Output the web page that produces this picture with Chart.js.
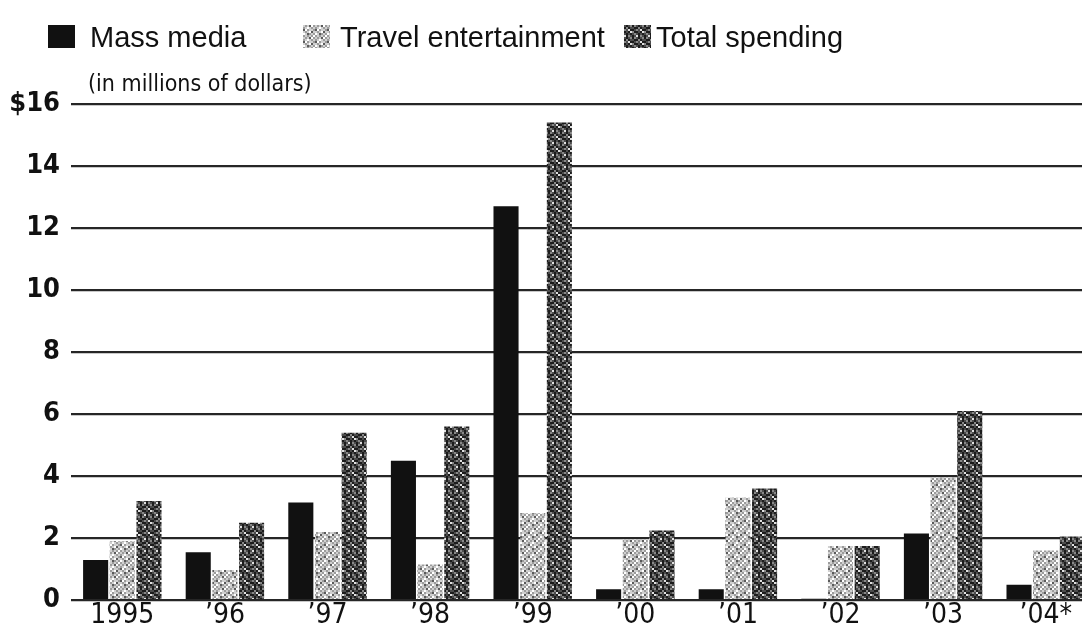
<!DOCTYPE html>
<html>
<head>
<meta charset="utf-8">
<script src="https://cdn.jsdelivr.net/npm/chart.js@4.4.0/dist/chart.umd.min.js"></script>
<style>
  html, body { margin: 0; padding: 0; background: #fff; overflow: hidden; }
  #wrap { position: absolute; left: 0; top: 0; width: 1100px; height: 640px; }
  #legend { position: absolute; left: 0; top: 0; width: 1082px; height: 70px;
            font-family: "Liberation Sans", Arial, sans-serif; font-size: 29px; color: #111; }
  .item { position: absolute; top: 19px; height: 36px; line-height: 36px; white-space: nowrap; }
  .sw { position: absolute; top: 6px; width: 27px; height: 23px; }
  .item span.t { position: absolute; top: 0; }
  #unit { position: absolute; left: 88px; top: 70px; font-family: "Liberation Sans Narrow", "DejaVu Sans Condensed", sans-serif;
          font-size: 23px; color: #111; }
</style>
</head>
<body>
<div id="wrap">
  <canvas id="chart" width="1100" height="640"></canvas>
</div>
<div id="legend"></div>
<div id="unit">(in millions of dollars)</div>
<script>
const years = ["1995", "’96", "’97", "’98", "’99", "’00", "’01", "’02", "’03", "’04*"];
const massMedia = [1.3, 1.55, 3.15, 4.5, 12.7, 0.35, 0.35, 0.05, 2.15, 0.5];
const travelEntertainment = [1.9, 0.97, 2.2, 1.15, 2.8, 1.95, 3.3, 1.75, 3.95, 1.6];
const totalSpending = [3.2, 2.5, 5.4, 5.6, 15.4, 2.25, 3.6, 1.75, 6.1, 2.05];
const seriesNames = ["Mass media", "Travel entertainment", "Total spending"];
const yMax = 16;
const yStep = 2;

// speckled newsprint textures (fixed tiles)
const travelTile = ["121302", "210121", "302112", "121031", "013212", "212120"];
const travelShades = ["#ffffff", "#d0d0d0", "#9c9c9c", "#5a5a5a"];
const totalTile = ["232131", "313223", "120332", "323013", "232321", "031232"];
const totalShades = ["#e0e0e0", "#888888", "#4c4c4c", "#1c1c1c"];

function makeTile(rows, shades) {
    const cell = 2;
    const c = document.createElement("canvas");
    c.width = rows[0].length * cell;
    c.height = rows.length * cell;
    const ctx = c.getContext("2d");
    rows.forEach((row, y) => {
        [...row].forEach((ch, x) => {
            ctx.fillStyle = shades[+ch];
            ctx.fillRect(x * cell, y * cell, cell, cell);
        });
    });
    return c;
}

const ctx = document.getElementById("chart").getContext("2d");
const travelTileCanvas = makeTile(travelTile, travelShades);
const totalTileCanvas = makeTile(totalTile, totalShades);
const travelFill = ctx.createPattern(travelTileCanvas, "repeat");
const totalFill = ctx.createPattern(totalTileCanvas, "repeat");

// legend
const legendSpots = [[48, 90], [303, 340], [624, 656]];
const swatches = ["#111", `url(${travelTileCanvas.toDataURL()})`, `url(${totalTileCanvas.toDataURL()})`];
document.getElementById("legend").innerHTML = seriesNames.map((name, i) =>
    `<div class="item" style="left:${legendSpots[i][0]}px">
        <div class="sw" style="left:0;background:${swatches[i]}"></div>
        <span class="t" style="left:${legendSpots[i][1] - legendSpots[i][0]}px">${name}</span>
    </div>`
).join("");

new Chart(ctx, {
    type: "bar",
    data: {
        labels: years,
        datasets: [
            { label: seriesNames[0], data: massMedia, backgroundColor: "#111" },
            { label: seriesNames[1], data: travelEntertainment, backgroundColor: travelFill },
            { label: seriesNames[2], data: totalSpending, backgroundColor: totalFill }
        ]
    },
    options: {
        responsive: false,
        animation: false,
        layout: { padding: { left: 0, right: 3, top: 104, bottom: 9 } },
        datasets: { bar: { categoryPercentage: 0.78, barPercentage: 0.94 } },
        plugins: { legend: { display: false }, tooltip: { enabled: false } },
        scales: {
            x: {
                grid: { display: false, drawTicks: false },
                border: { display: false },
                ticks: {
                    color: "#111",
                    padding: 0,
                    font: { family: "'Liberation Sans Narrow', 'DejaVu Sans Condensed', sans-serif", size: 28, lineHeight: 1.1 }
                }
            },
            y: {
                min: 0,
                max: yMax,
                afterFit: (s) => { s.width = 71; },
                grid: { color: "#262626", lineWidth: 2.2, drawTicks: false },
                border: { display: false },
                ticks: {
                    stepSize: yStep,
                    color: "#111",
                    padding: 11,
                    font: { family: "'Liberation Sans Narrow', 'DejaVu Sans Condensed', sans-serif", size: 27, weight: "bold" },
                    callback: (v) => v === yMax ? "$" + v : v
                }
            }
        }
    }
});
</script>
</body>
</html>
